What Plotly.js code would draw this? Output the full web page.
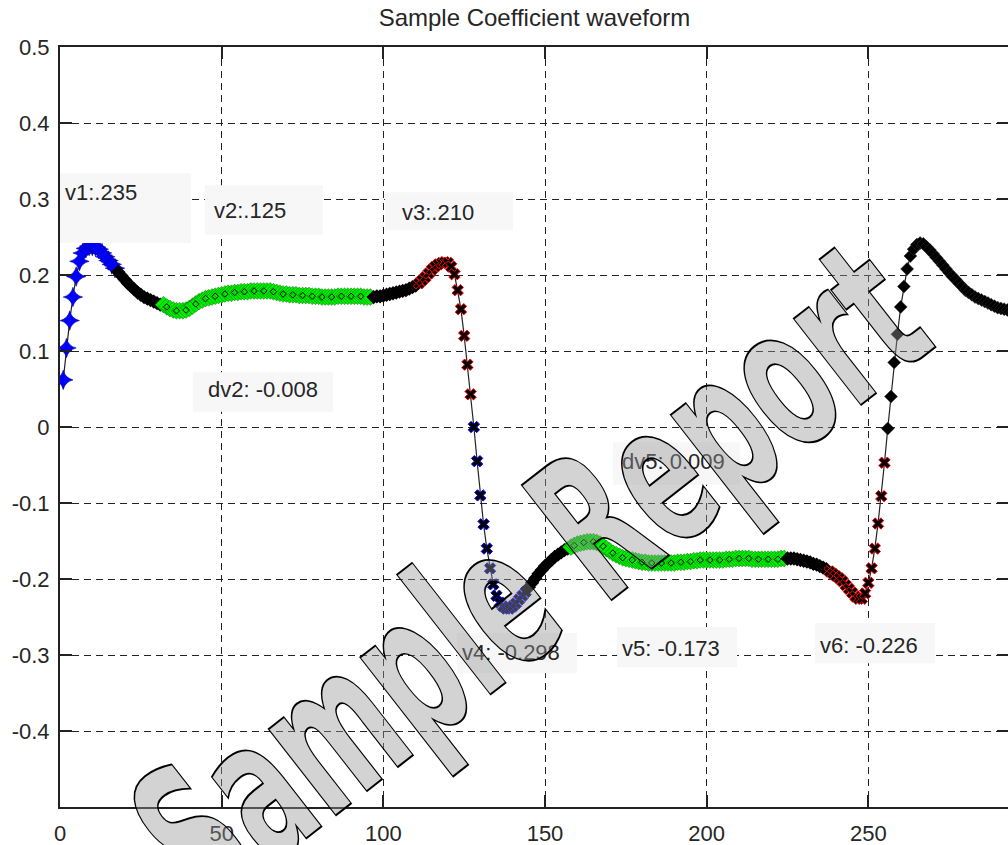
<!DOCTYPE html>
<html>
<head>
<meta charset="utf-8">
<script src="https://cdn.plot.ly/plotly-3.0.1.min.js"></script>
<style>
html,body{margin:0;padding:0;overflow:hidden;background:#fff;}
#chart{width:1010px;height:845px;}
</style>
</head>
<body>
<div id="chart"></div>
<script>
// ---- data (sample index starts, coefficient values) ----
const seg1BlueStart = 1;
const seg1Blue = [0.062,0.104,0.140,0.171,0.198,0.218,0.229,0.235,0.238,0.238,0.237,0.234,0.229,0.224,0.219,0.214,0.209];
const seg2BlackStart = 18;
const seg2Black = [0.204,0.199,0.194,0.189,0.185,0.181,0.177,0.174,0.171,0.169,0.167,0.165,0.163,0.161];
const seg3GreenStart = 32;
const seg3Green = [0.161,0.158,0.156,0.154,0.153,0.153,0.153,0.154,0.156,0.159,0.162,0.165,0.167,0.169,0.170,0.171,0.172,0.173,0.174,0.175,0.176,0.176,0.177,0.177,0.178,0.178,0.178,0.179,0.179,0.179,0.179,0.179,0.179,0.179,0.178,0.177,0.176,0.175,0.175,0.174,0.174,0.174,0.173,0.173,0.173,0.173,0.172,0.172,0.172,0.171,0.171,0.171,0.171,0.171,0.172,0.172,0.172,0.172,0.172,0.172,0.172,0.172,0.171,0.171,0.171];
const seg4BlackStart = 97;
const seg4Black = [0.171,0.172,0.172,0.173,0.174,0.175,0.176,0.177,0.178,0.179,0.180,0.182,0.184,0.186];
const seg5RedStart = 111;
const seg5Red = [0.189,0.193,0.197,0.202,0.207,0.211,0.214,0.216,0.217,0.216,0.211,0.201,0.180,0.155,0.120,0.082,0.043];
const seg6BlueStart = 128;
const seg6Blue = [0.000,-0.045,-0.090,-0.128,-0.160,-0.186,-0.207,-0.222,-0.231,-0.236,-0.239,-0.239,-0.236,-0.232,-0.227,-0.222,-0.217];
const seg7BlackStart = 145;
const seg7Black = [-0.211,-0.205,-0.199,-0.193,-0.188,-0.183,-0.179,-0.175,-0.171,-0.168,-0.165,-0.162,-0.160];
const seg8GreenStart = 158;
const seg8Green = [-0.158,-0.156,-0.154,-0.153,-0.152,-0.151,-0.151,-0.151,-0.152,-0.154,-0.157,-0.160,-0.163,-0.166,-0.168,-0.170,-0.172,-0.173,-0.174,-0.175,-0.176,-0.177,-0.178,-0.178,-0.179,-0.179,-0.179,-0.179,-0.179,-0.179,-0.179,-0.179,-0.179,-0.178,-0.178,-0.178,-0.177,-0.177,-0.176,-0.176,-0.175,-0.175,-0.175,-0.175,-0.175,-0.175,-0.175,-0.175,-0.174,-0.174,-0.174,-0.173,-0.173,-0.173,-0.173,-0.173,-0.174,-0.174,-0.174,-0.174,-0.174,-0.174,-0.174,-0.174,-0.174,-0.173,-0.173];
const seg9BlackStart = 225;
const seg9Black = [-0.173,-0.173,-0.173,-0.174,-0.175,-0.176,-0.177,-0.178,-0.180,-0.181,-0.183,-0.185,-0.187];
const seg10RedStart = 238;
const seg10Red = [-0.190,-0.193,-0.196,-0.199,-0.203,-0.208,-0.213,-0.218,-0.223,-0.226,-0.226,-0.219,-0.205,-0.186,-0.160,-0.127,-0.091,-0.047];
const seg11BlackStart = 256;
const seg11Black = [-0.002,0.040,0.085,0.122,0.158,0.185,0.208,0.225,0.234,0.240,0.242,0.241,0.237,0.233,0.228,0.223,0.218,0.213,0.208,0.203,0.198,0.194,0.189,0.185,0.180,0.177,0.174,0.171,0.169,0.167,0.165,0.163,0.161,0.159,0.157,0.156,0.155,0.154,0.153,0.152];

const xTickVals = [0,50,100,150,200,250];
const xTickText = ['0','50','100','150','200','250'];
const yTickVals = [-0.4,-0.3,-0.2,-0.1,0,0.1,0.2,0.3,0.4,0.5];
const yTickText = ['-0.4','-0.3','-0.2','-0.1','0','0.1','0.2','0.3','0.4','0.5'];

const labelTexts = ['v1:.235','v2:.125','v3:.210','dv2: -0.008','dv5: 0.009','v4: -0.298','v5: -0.173','v6: -0.226'];
const watermarkText = 'Sample Report';

// ---- styles ----
const styles = {
  blueStar: {symbol:'star-diamond', size:14, color:'#0000ff', line:{color:'#000080', width:0.5}},
  black:    {symbol:'diamond', size:11, color:'#000000', line:{width:0}},
  green:    {symbol:'diamond', size:13, color:'#00ee00', line:{color:'#000000', width:0.3}},
  redX:     {symbol:'x', size:10, color:'#000000', line:{color:'#ff0000', width:1}},
  blueX:    {symbol:'x', size:10, color:'#000000', line:{color:'#0000ff', width:1}},
  blackD:   {symbol:'diamond', size:10, color:'#000000', line:{color:'#333', width:0.5}}
};
const greenDot = {symbol:'diamond-open', size:5, color:'#000', line:{color:'#000', width:1}};

const segments = [
  [seg1BlueStart, seg1Blue, 'blueStar'],
  [seg2BlackStart, seg2Black, 'black'],
  [seg3GreenStart, seg3Green, 'green'],
  [seg4BlackStart, seg4Black, 'black'],
  [seg5RedStart, seg5Red, 'redX'],
  [seg6BlueStart, seg6Blue, 'blueX'],
  [seg7BlackStart, seg7Black, 'black'],
  [seg8GreenStart, seg8Green, 'green'],
  [seg9BlackStart, seg9Black, 'black'],
  [seg10RedStart, seg10Red, 'redX'],
  [seg11BlackStart, seg11Black, 'blackD']
];

const allX = [], allY = [];
const traces = [];
segments.forEach(([start, ys, st]) => {
  const xs = ys.map((_, i) => start + i);
  xs.forEach((x, i) => { allX.push(x); allY.push(ys[i]); });
  traces.push({x: xs, y: ys, type:'scatter', mode:'markers', marker: styles[st], hoverinfo:'skip'});
  if (st === 'green') {
    const sx = xs.filter((_, i) => i % 3 === 1), sy = ys.filter((_, i) => i % 3 === 1);
    traces.push({x: sx, y: sy, type:'scatter', mode:'markers', marker: greenDot, hoverinfo:'skip'});
  }
});
traces.unshift({x: allX, y: allY, type:'scatter', mode:'lines', line:{color:'#222', width:1.2}, hoverinfo:'skip'});

// label boxes [x0,x1,y0,y1] and text anchors [x,y]
const boxes = [
  [-0.6,40.5,0.242,0.334],
  [44.8,81.3,0.253,0.318],
  [100.5,140.1,0.259,0.309],
  [41.1,84.4,0.020,0.072],
  [171.0,210.3,-0.076,-0.020],
  [122.8,159.9,-0.324,-0.271],
  [172.3,209.4,-0.316,-0.263],
  [233.5,270.6,-0.311,-0.258]
];
const anchors = [
  [0.9,0.308],[47,0.2855],[105.2,0.2816],[45,0.0487],[173.2,-0.046],[123.7,-0.297],[173.2,-0.291],[234.4,-0.287]
];

const shapes = boxes.map(b => ({type:'rect', xref:'x', yref:'y', x0:b[0], x1:b[1], y0:b[2], y1:b[3],
  fillcolor:'#f7f7f7', line:{width:0}, layer:'above'}));

const annotations = labelTexts.map((t, i) => ({text:t, x:anchors[i][0], y:anchors[i][1], xref:'x', yref:'y',
  xanchor:'left', yanchor:'middle', showarrow:false, font:{family:'Liberation Sans, Arial, sans-serif', size:22, color:'#262626'}}));

annotations.push({text:watermarkText, xref:'paper', yref:'paper', x:0.495, y:0.305, xanchor:'center', yanchor:'middle',
  showarrow:false, textangle:-38, font:{family:'DejaVu Sans, Liberation Sans, sans-serif', size:200, weight:700, color:'rgba(150,150,150,0.42)'}});

const axisCommon = {
  showline:true, linecolor:'#222', linewidth:2, mirror:'ticks', ticks:'inside', ticklen:12, tickwidth:1.5, tickcolor:'#222',
  showgrid:true, gridcolor:'#222', gridwidth:1.3, griddash:'7px,5px', zeroline:false,
  tickfont:{family:'Liberation Sans, Arial, sans-serif', size:22, color:'#262626'}
};

const layout = {
  width:1010, height:845,
  margin:{l:60, r:1, t:47, b:38},
  paper_bgcolor:'#fff', plot_bgcolor:'#fff',
  showlegend:false,
  title:{text:'Sample Coefficient waveform', x:0.5, xref:'paper', y:(845-18)/845, yref:'container', yanchor:'middle',
    font:{family:'Liberation Sans, Arial, sans-serif', size:24, color:'#262626'}},
  xaxis:Object.assign({}, axisCommon, {range:[0,293.5], tickvals:xTickVals, ticktext:xTickText, ticklabelstandoff:6}),
  yaxis:Object.assign({}, axisCommon, {range:[-0.5,0.5], tickvals:yTickVals, ticktext:yTickText, ticklabelstandoff:4}),
  shapes: shapes,
  annotations: annotations
};

Plotly.newPlot('chart', traces, layout, {displayModeBar:false, responsive:false}).then(() => {
  document.querySelectorAll('.annotation-text').forEach(t => {
    if (t.textContent === watermarkText) {
      t.style.stroke = '#000';
      t.style.strokeWidth = '2px';
      t.setAttribute('textLength', '930');
      t.setAttribute('lengthAdjust', 'spacingAndGlyphs');
    }
  });
});
</script>
</body>
</html>
